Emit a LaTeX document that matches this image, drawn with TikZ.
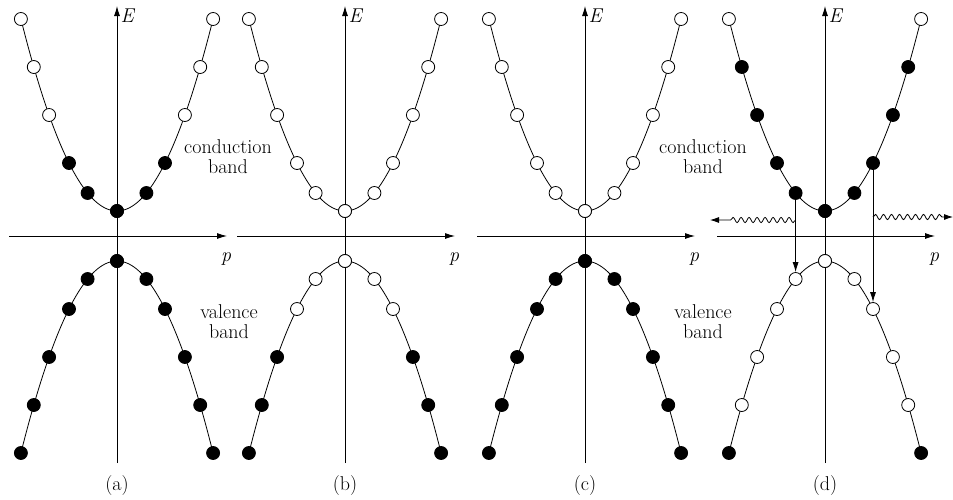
\documentclass[tikz,border=0pt]{standalone}
\usetikzlibrary{arrows.meta,decorations.pathmorphing}
\tikzset{
  full/.style={circle,draw,fill=black,minimum size=13pt,inner sep=0pt,line width=0.8pt},
  empty/.style={circle,draw,fill=white,minimum size=13pt,inner sep=0pt,line width=0.8pt},
  axis/.style={line width=0.9pt,-{Latex[length=10pt,width=6pt]}},
  bandline/.style={line width=0.8pt},
  lbl/.style={font=\fontsize{20}{20}\selectfont,align=center,inner sep=0pt},
  varrow/.style={line width=0.8pt,-{Latex[length=10pt,width=6pt]}},
  wavy/.style={line width=0.8pt,-{Latex[length=9pt,width=6pt]},decorate,
    decoration={snake,amplitude=2.6pt,segment length=8pt,post length=#1}},
}
\newcommand\bandpanel[4]{%
\begin{scope}[shift={(#1,0)}]
  \draw[axis] (0,463) -- (0,6);
  \draw[axis] (-108,236) -- (110,236);
  \draw[bandline] plot[domain=-96.1:96.1,samples=81] (\x,{211-0.0208*\x*\x});
  \draw[bandline] plot[domain=-96.1:96.1,samples=81] (\x,{261+0.0208*\x*\x});
  \foreach \i/\d/\e in {0/0/0,1/29.4/18,2/48/48,3/67.9/96,4/83.2/144,5/96.1/192}{
    \ifnum\i>#3 \def\cs{empty}\else\def\cs{full}\fi
    \ifnum\i<#4 \def\vs{empty}\else\def\vs{full}\fi
    \node[\cs] (#2c\i) at ({\d},{211-\e}) {};
    \node[\cs] (#2cm\i) at ({-\d},{211-\e}) {};
    \node[\vs] (#2v\i) at ({\d},{261+\e}) {};
    \node[\vs] (#2vm\i) at ({-\d},{261+\e}) {};
  }
\end{scope}}
\begin{document}
\begin{tikzpicture}[x=1pt,y=-1pt]
\useasboundingbox (0,0) rectangle (953,499);
\bandpanel{117}{a}{2}{0}
\bandpanel{345}{b}{-1}{3}
\bandpanel{585}{c}{-1}{0}
\bandpanel{825}{d}{4}{5}
% axis labels
\foreach \n/\cx in {a/117,b/345,c/585,d/825}{
  \node[lbl] (E\n) at (\cx+11,16) {\textit{E}};
  \node[lbl] (p\n) at (\cx+109,259) {\textit{p}};
}
\node[lbl] (cap-a) at (117,485) {(a)};
\node[lbl] (cap-b) at (345,485) {(b)};
\node[lbl] (cap-c) at (585,485) {(c)};
\node[lbl] (cap-d) at (825,485) {(d)};
% band labels
\node[lbl] (cb1) at (228,157) {conduction\\band};
\node[lbl] (vb1) at (229,322) {valence\\band};
\node[lbl] (cb2) at (703,157) {conduction\\band};
\node[lbl] (vb2) at (703,322) {valence\\band};
% transitions in (d)
\draw[varrow] (dcm1) -- (dvm1);
\draw[varrow] (dc2) -- (dv2);
\coordinate (wl) at (710,220);
\coordinate (wr) at (953,217);
\draw[wavy=20pt] (dcm1 |- wl) -- (wl);
\draw[wavy=9pt] (dc2 |- wr) -- (wr);
\end{tikzpicture}
\end{document}
